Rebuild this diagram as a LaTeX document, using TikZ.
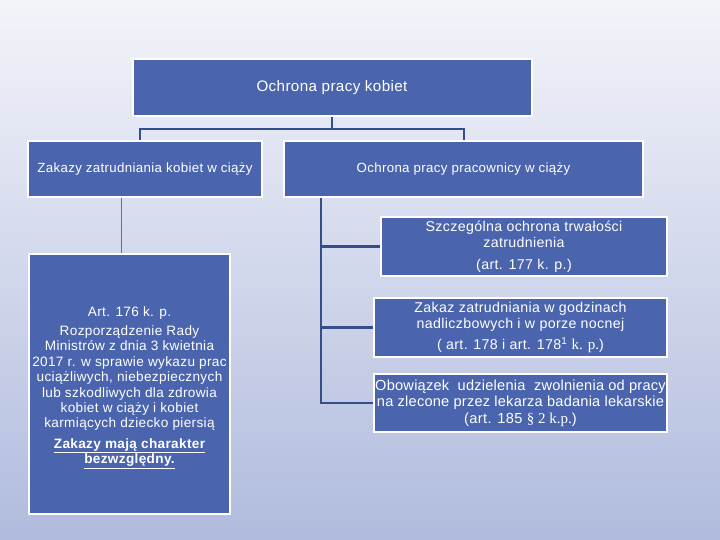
\documentclass[tikz,border=0pt]{standalone}
\usepackage{fontspec}
\setmainfont{Liberation Sans}[LetterSpace=2.5]
\newfontfamily\serifk{Liberation Serif}
\usetikzlibrary{positioning}
\definecolor{boxblue}{RGB}{74,101,174}
\definecolor{linkblue}{RGB}{52,78,138}
\definecolor{bgtop}{RGB}{243,244,250}
\definecolor{bgbot}{RGB}{176,187,221}
\tikzset{
  bluebox/.style={draw=white, line width=2pt, fill=boxblue, text=white, align=center,
    inner sep=0pt, font=\fontsize{13.3}{15.3}\selectfont},
  link/.style={draw=linkblue, line width=2.4pt},
  thinlink/.style={draw=linkblue!80, line width=1pt},
  boxtext/.style={text=white, align=center, inner sep=0pt, font=\fontsize{13.6}{15.4}\selectfont}
}
\begin{document}
\begin{tikzpicture}[x=1pt,y=-1pt]
\shade[top color=bgtop, bottom color=bgbot] (0,0) rectangle (720,540);
\useasboundingbox (0,0) rectangle (720,540);

\node[bluebox, minimum width=399pt, minimum height=57pt, font=\fontsize{15.2}{17}\selectfont] (top) at (332,87.5) {Ochrona pracy kobiet};
\node[bluebox, minimum width=234pt, minimum height=56pt] (left) at (145,169) {Zakazy zatrudniania kobiet w ciąży};
\node[bluebox, minimum width=359pt, minimum height=56pt] (right) at (463.5,169) {Ochrona pracy pracownicy w ciąży};

\node[bluebox, minimum width=201pt, minimum height=260pt] (tall) at (129.5,384) {};
\node[boxtext, anchor=north] (talltext) at (129.5,306.5) {Art. 176 k. p.\\[3.5pt]
Rozporządzenie Rady\\Ministrów z dnia 3 kwietnia\\2017 r. w sprawie wykazu prac\\uciążliwych, niebezpiecznych\\lub szkodliwych dla zdrowia\\kobiet w ciąży i kobiet\\karmiących dziecko piersią\\[5pt]
\textbf{\underline{Zakazy mają charakter}}\\\textbf{\underline{bezwzględny.}}};

\node[bluebox, minimum width=286pt, minimum height=59pt, font=\fontsize{14.2}{16}\selectfont] (a) at (524,246.5) {Szczególna ochrona trwałości\\zatrudnienia\\[6pt](art. 177 k. p.)};
\node[bluebox, minimum width=293pt, minimum height=59pt, font=\fontsize{14.2}{16}\selectfont] (b) at (520.5,327.5) {Zakaz zatrudniania w godzinach\\nadliczbowych i w porze nocnej\\[5pt]( art. 178 i art. 178\textsuperscript{1} {\serifk\fontsize{15}{16}\selectfont k. p.})};
\node[bluebox, minimum width=293pt, minimum height=58pt, font=\fontsize{14.6}{16.5}\selectfont] (c) at (520.5,403) {\addfontfeature{LetterSpace=1.5}Obowiązek\ \ udzielenia\ \ zwolnienia od pracy\\\addfontfeature{LetterSpace=1.5}na zlecone przez lekarza badania lekarskie\\(art. 185 {\serifk\fontsize{15}{16}\selectfont § 2 k.p.})};

\coordinate (hub) at (332,129);
\draw[link] (top.south) -- (hub);
\draw[link] (left.north -| 140,0) |- (hub) -| (right.north -| 464,0);
\draw[thinlink] (left.south -| 121,0) -- (tall.north -| 121,0);
\draw[link] (right.south -| 321,0) |- (c.west);
\draw[link] (321,246.5) -- (a.west);
\draw[link] (321,327.5) -- (b.west);
\end{tikzpicture}
\end{document}
